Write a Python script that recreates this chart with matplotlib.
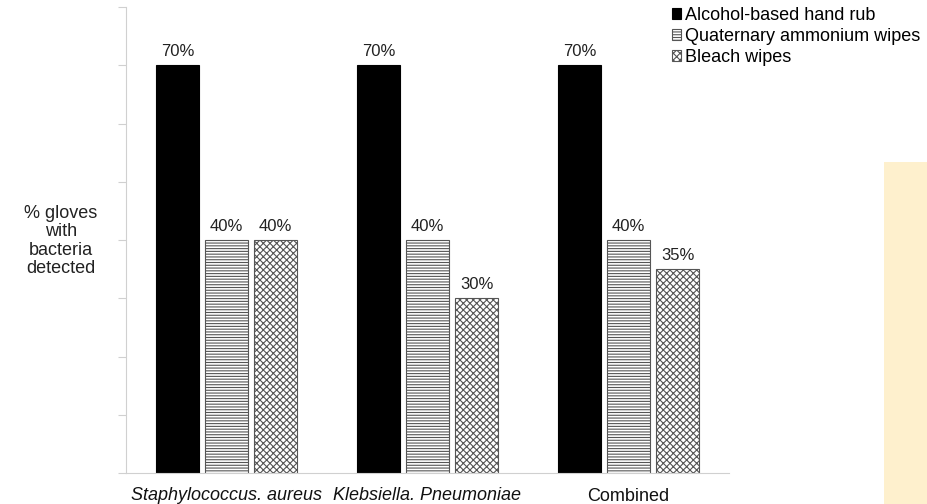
import numpy as np
import matplotlib
matplotlib.use("Agg")
import matplotlib.pyplot as plt
from matplotlib.patches import Patch, Rectangle

# Dados do gráfico
categorias = ["Staphylococcus. aureus", "Klebsiella. Pneumoniae", "Combined"]
alcool = [70, 70, 70]
quaternario = [40, 40, 40]
alvejante = [40, 30, 35]
series_nomes = ["Alcohol-based hand rub", "Quaternary ammonium wipes", "Bleach wipes"]

plt.rcParams["font.family"] = ["Liberation Sans", "DejaVu Sans"]
plt.rcParams["hatch.linewidth"] = 0.8

fig = plt.figure(figsize=(9.28, 5.04), dpi=100)
ax = fig.add_axes([126 / 928, 31 / 504, 603 / 928, 466 / 504])

x = np.arange(len(categorias))
largura = 0.21
passo = 0.244

estilos = [
    dict(facecolor="black", edgecolor="black", hatch=None),
    dict(facecolor="white", edgecolor="#555555", hatch="------"),
    dict(facecolor="white", edgecolor="#555555", hatch="xxxxx"),
]

for i, valores in enumerate([alcool, quaternario, alvejante]):
    barras = ax.bar(x + (i - 1) * passo, valores, largura, linewidth=0.8, **estilos[i])
    for b, v in zip(barras, valores):
        ax.annotate(f"{v}%", (b.get_x() + b.get_width() / 2, v),
                    xytext=(0, 6.5), textcoords="offset points",
                    ha="center", va="baseline", fontsize=12, color="#222222")

ax.set_xlim(-0.5, 2.5)
ax.set_ylim(0, 80)
ax.set_yticks(np.arange(0, 81, 10))
ax.set_yticklabels([])
ax.tick_params(axis="y", length=6, color="#d0d0d0", width=0.8)
ax.set_xticks([])
for lado in ["top", "right"]:
    ax.spines[lado].set_visible(False)
for lado in ["left", "bottom"]:
    ax.spines[lado].set_color("#d0d0d0")
    ax.spines[lado].set_linewidth(0.8)

# Rótulos das categorias (as bactérias em itálico)
for xi, nome in zip(x, categorias):
    italico = "italic" if nome != "Combined" else "normal"
    dy = -19.4 if nome != "Combined" else -20.0
    ax.annotate(nome, (xi, 0), xytext=(0, dy), textcoords="offset points",
                ha="center", va="baseline", fontsize=13, style=italico,
                color="#111111")

fig.text(61 / 928, 1 - 241 / 504, "% gloves\nwith\nbacteria\ndetected",
         ha="center", va="center", fontsize=13, linespacing=1.1,
         color="#222222")

handles = [Patch(linewidth=0.8, **e) for e in estilos]
fig.legend(handles, series_nomes, loc="upper left",
           bbox_to_anchor=(672 / 928, 1 - 7 / 504), frameon=False,
           fontsize=13, handlelength=0.5, handleheight=0.5,
           handletextpad=0.2, labelspacing=0.22, borderpad=0,
           borderaxespad=0)

# Faixa amarela à direita
fig.patches.append(Rectangle((884 / 928, 0), 44 / 928, (504 - 162) / 504,
                             transform=fig.transFigure, facecolor="#fef0cd",
                             edgecolor="none", zorder=-1))

fig.savefig("out.png", dpi=100)
